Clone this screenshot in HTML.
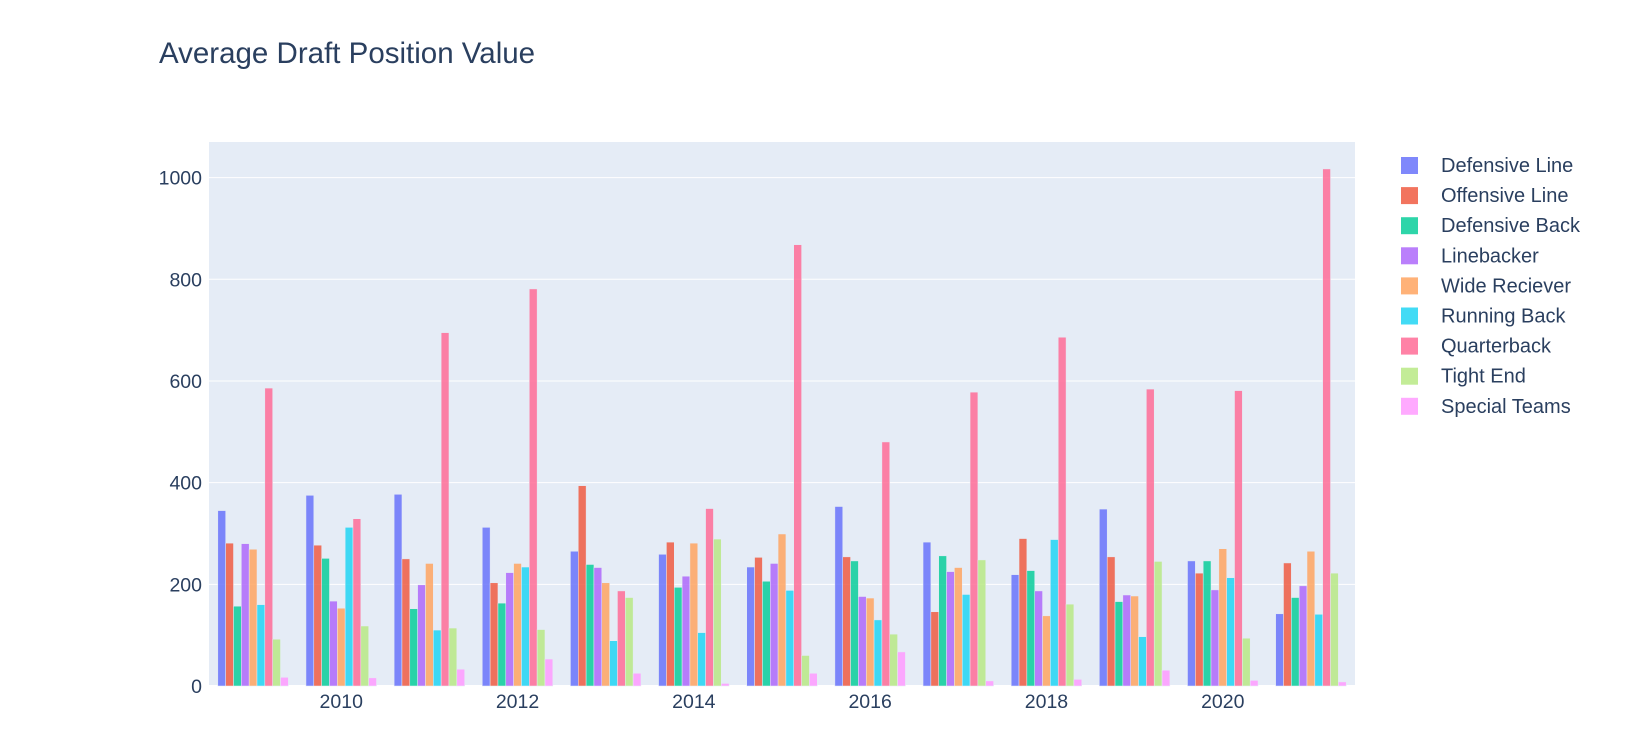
<!DOCTYPE html>
<html><head><meta charset="utf-8"><style>
body{margin:0;background:#fff;font-family:"Liberation Sans",sans-serif}
</style></head><body>
<svg id="chart" width="1638" height="734" xmlns="http://www.w3.org/2000/svg" font-family="Liberation Sans, sans-serif">
<text x="159" y="63" font-size="29.5" fill="#2a3f5f">Average Draft Position Value</text>
<rect x="209" y="142" width="1146" height="544" fill="#e5ecf6"/>
<g id="grid"></g><g id="bars"></g><g id="xt"></g><g id="yt"></g><g id="legend"></g>
</svg>
<script>
const years=[2009,2010,2011,2012,2013,2014,2015,2016,2017,2018,2019,2020,2021];
const seriesNames=["Defensive Line","Offensive Line","Defensive Back","Linebacker","Wide Reciever","Running Back","Quarterback","Tight End","Special Teams"];
const colors=["#636efa","#EF553B","#00cc96","#ab63fa","#FFA15A","#19d3f3","#FF6692","#B6E880","#FF97FF"];
const defensiveLine=[345,375,377,312,265,259,234,353,283,219,348,246,142];
const offensiveLine=[281,277,250,203,394,283,253,254,146,290,254,222,242];
const defensiveBack=[157,251,152,163,239,194,206,246,256,227,166,246,174];
const linebacker=[280,167,199,223,233,216,241,176,225,187,179,189,197];
const wideReceiver=[269,153,241,241,203,281,299,173,233,138,177,270,265];
const runningBack=[160,312,110,234,89,105,188,130,180,288,97,213,141];
const quarterback=[586,329,695,781,187,349,868,480,578,686,584,581,1017];
const tightEnd=[92,118,114,111,174,289,60,102,248,161,245,94,222];
const specialTeams=[17,16,33,53,25,5,25,67,10,13,31,11,8];
const values=[defensiveLine,offensiveLine,defensiveBack,linebacker,wideReceiver,runningBack,quarterback,tightEnd,specialTeams];
const yTicks=[0,200,400,600,800,1000];
const xTicks=[2010,2012,2014,2016,2018,2020];
const NS="http://www.w3.org/2000/svg";
const X0=209,X1=1355,Y0=686,Y1=142;
const xMin=2008.5,xMax=2021.5,yMin=0,yMax=1070;
const xs=v=>X0+(v-xMin)/(xMax-xMin)*(X1-X0);
const ys=v=>Y0-(v-yMin)/(yMax-yMin)*(Y0-Y1);
function mk(t,a,p){const e=document.createElementNS(NS,t);for(const k in a)e.setAttribute(k,a[k]);p.appendChild(e);return e;}
const grid=document.getElementById('grid'),yt=document.getElementById('yt'),xt=document.getElementById('xt'),bars=document.getElementById('bars'),lg=document.getElementById('legend');
yTicks.forEach(v=>{
 const l=mk('line',{x1:X0,x2:X1,y1:ys(v),y2:ys(v),stroke:'#fff','stroke-width':v===0?2:1},grid);
 
 
 const t=mk('text',{x:X0-7,y:ys(v)+7,'text-anchor':'end','font-size':19.5,fill:'#2a3f5f'},yt);t.textContent=v;
 
 
});
xTicks.forEach(v=>{
 const t=mk('text',{x:xs(v),y:Y0+22,'text-anchor':'middle','font-size':19.5,fill:'#2a3f5f'},xt);t.textContent=v;
 
 
});
const unit=(xs(1)-xs(0));const gw=unit*0.8;const bw=gw/seriesNames.length;
values.forEach((arr,s)=>{
 arr.forEach((v,i)=>{
  const x=xs(years[i])-gw/2+s*bw;
  const r=mk('rect',{x:x,y:ys(v),width:bw,height:ys(0)-ys(v),fill:colors[s],'fill-opacity':0.82,stroke:'#E5ECF6','stroke-width':0.5},bars);
  
  
 });
 const ly=165+s*30.1;
 const g=mk('g',{},lg);
 
 
 mk('rect',{x:1401,y:ly-8,width:17,height:17,fill:colors[s],'fill-opacity':0.82},g);
 const t=mk('text',{x:1441,y:ly+7,'font-size':20,fill:'#2a3f5f'},g);t.textContent=seriesNames[s];
});
</script>
</body></html>
